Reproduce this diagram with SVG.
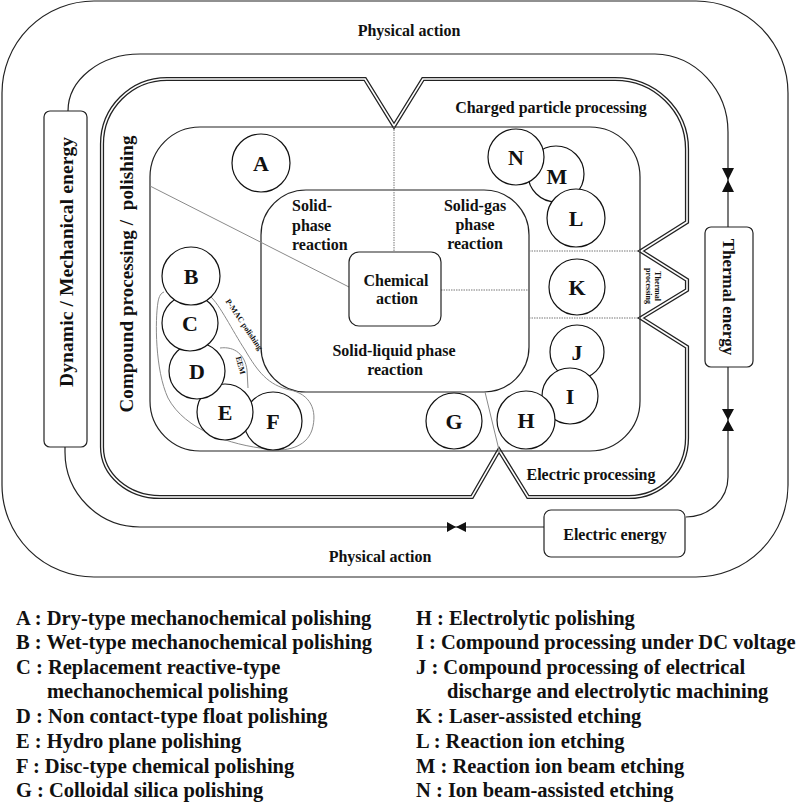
<svg xmlns="http://www.w3.org/2000/svg" width="800" height="806" viewBox="0 0 800 806">
<style>
text{font-family:"Liberation Serif","Times New Roman",serif;font-weight:bold;fill:#111}
.lbl{font-size:16px}
.mid{text-anchor:middle}
.big{font-size:22px;text-anchor:middle}
.leg{font-size:20.5px}
.vert{font-size:19px;text-anchor:middle}
.tiny{font-size:8px;text-anchor:middle}
.ln{fill:none;stroke:#222;stroke-width:1.2}
.box{fill:#fff;stroke:#222;stroke-width:1.2}
.circ{fill:#fff;stroke:#111;stroke-width:1.2}
.dot{fill:none;stroke:#777;stroke-width:1;stroke-dasharray:1.5 1}
.gray{fill:none;stroke:#8a8a8a;stroke-width:1}
.dblo{fill:none;stroke:#222;stroke-width:4.2;stroke-linejoin:miter}
.dbli{fill:none;stroke:#fff;stroke-width:1.6;stroke-linejoin:miter}
.valve{fill:#111}
</style>
<rect x="0" y="0" width="800" height="806" fill="#fff"/>

<g id="outer-frame">
<rect class="ln" x="2" y="1" width="786" height="576" rx="92" ry="92"/>
<text class="lbl mid" x="409" y="36">Physical action</text>
<text class="lbl mid" x="380" y="562">Physical action</text>
</g>

<g id="connectors">
<path class="ln" d="M68 111 A72 57 0 0 1 140 54 L655 54 A75 78 0 0 1 728 132 L728 227"/>
<path class="ln" d="M728 367 L728 477 A42 40 0 0 1 686 517"/>
<path class="ln" d="M544 527 L140 527 A75 75 0 0 1 65 452 L65 447"/>
<polygon class="valve" points="722,168 734,168 728,180 734,192 722,192 728,180"/>
<polygon class="valve" points="722,409 734,409 728,420 734,431 722,431 728,420"/>
<polygon class="valve" points="447,522 447,532 456,527 466,532 466,522 456,527"/>
</g>

<g id="processing-boundary">
<path class="dblo" d="M167 79 L365 79 L394 126 L423 79 L615 79 A72 70 0 0 1 687 149 L687 222 L641 251 L687 280 L687 290 L641 318 L687 347 L687 438 A58 59 0 0 1 629 497 L528 497 L499 450 L472 497 L160 497 A58 50 0 0 1 102 447 L102 144 A65 65 0 0 1 167 79 Z"/>
<path class="dbli" d="M167 79 L365 79 L394 126 L423 79 L615 79 A72 70 0 0 1 687 149 L687 222 L641 251 L687 280 L687 290 L641 318 L687 347 L687 438 A58 59 0 0 1 629 497 L528 497 L499 450 L472 497 L160 497 A58 50 0 0 1 102 447 L102 144 A65 65 0 0 1 167 79 Z"/>
<text class="lbl mid" x="551" y="113">Charged particle processing</text>
<text class="lbl mid" x="591" y="480">Electric processing</text>
<text class="vert" transform="translate(133,274) rotate(-90)" textLength="277" xml:space="preserve">Compound processing /  polishing</text>
<text class="tiny" transform="translate(655,286) rotate(90)"><tspan x="0" y="0">Thermal</tspan><tspan x="0" y="9">processing</tspan></text>
</g>

<g id="reaction-area">
<rect class="ln" x="150" y="127" width="490" height="324" rx="50" ry="50"/>
<rect class="ln" x="261" y="190" width="268" height="202" rx="45" ry="45"/>
<path class="dot" d="M394 127 L394 252"/>
<path class="dot" d="M441 290 L529 290"/>
<path class="dot" d="M529 251 L641 251"/>
<path class="dot" d="M529 318 L641 318"/>
<path class="gray" d="M150 186 L349 287"/>
<path class="gray" d="M485 392 L499 450"/>
<text class="lbl" x="292" y="211">Solid-</text>
<text class="lbl" x="292" y="231">phase</text>
<text class="lbl" x="292" y="250">reaction</text>
<text class="lbl mid" x="475" y="211">Solid-gas</text>
<text class="lbl mid" x="475" y="230">phase</text>
<text class="lbl mid" x="475" y="249">reaction</text>
<text class="lbl mid" x="394" y="356">Solid-liquid phase</text>
<text class="lbl mid" x="395" y="375">reaction</text>
</g>

<g id="polishing-groups">
<path class="gray" d="M210 296 C220 305 232 330 245 350 C258 372 268 385 290 390 C310 394 318 410 312 430 C306 448 285 452 268 449 C230 445 185 430 168 398 C155 370 155 320 158 302 C159 296 161 293 164 292"/>
<path class="gray" d="M220 348 C235 346 245 355 247 370 L248 388"/>
<text class="tiny" transform="translate(242,326) rotate(56)">P-MAC polishing</text>
<text class="tiny" transform="translate(238,366) rotate(75)">EEM</text>
</g>

<g id="chemical-action">
<rect class="box" x="349" y="252" width="92" height="74" rx="10" ry="10"/>
<text class="lbl mid" x="396" y="286">Chemical</text>
<text class="lbl mid" x="397" y="304">action</text>
</g>

<g id="dynamic-mechanical-energy">
<rect class="box" x="44" y="111" width="43" height="336" rx="6" ry="6"/>
<text class="vert" transform="translate(73,262) rotate(-90)" style="font-size:19.5px" textLength="250" xml:space="preserve">Dynamic / Mechanical energy</text>
</g>
<g id="thermal-energy">
<rect class="box" x="705" y="227" width="48" height="140" rx="6" ry="6"/>
<text class="lbl mid" transform="translate(723,297) rotate(90)" style="font-size:17px">Thermal energy</text>
</g>
<g id="electric-energy">
<rect class="box" x="544" y="510" width="141" height="47" rx="7" ry="7"/>
<text class="lbl mid" x="615" y="540">Electric energy</text>
</g>

<g id="node-A"><circle class="circ" cx="261" cy="163" r="29"/><text class="big" x="261" y="171">A</text></g>
<g id="node-F"><circle class="circ" cx="273" cy="421" r="29"/><text class="big" x="273" y="429">F</text></g>
<g id="node-E"><circle class="circ" cx="225" cy="412" r="28"/><text class="big" x="225" y="420">E</text></g>
<g id="node-D"><circle class="circ" cx="197" cy="371" r="28"/><text class="big" x="197" y="379">D</text></g>
<g id="node-C"><circle class="circ" cx="190" cy="323" r="28"/><text class="big" x="190" y="331">C</text></g>
<g id="node-B"><circle class="circ" cx="191" cy="276" r="29"/><text class="big" x="191" y="284">B</text></g>
<g id="node-G"><circle class="circ" cx="454" cy="421" r="28"/><text class="big" x="454" y="429">G</text></g>
<g id="node-J"><circle class="circ" cx="577" cy="352" r="27"/><text class="big" x="577" y="360">J</text></g>
<g id="node-I"><circle class="circ" cx="570" cy="396" r="28"/><text class="big" x="570" y="404">I</text></g>
<g id="node-H"><circle class="circ" cx="526" cy="420" r="29"/><text class="big" x="526" y="428">H</text></g>
<g id="node-K"><circle class="circ" cx="577" cy="287" r="28"/><text class="big" x="577" y="295">K</text></g>
<g id="node-M"><circle class="circ" cx="556" cy="174" r="28"/><text class="big" x="557" y="184">M</text></g>
<g id="node-N"><circle class="circ" cx="516" cy="157" r="28"/><text class="big" x="516" y="165">N</text></g>
<g id="node-L"><circle class="circ" cx="576" cy="218" r="29"/><text class="big" x="576" y="226">L</text></g>

<g id="legend">
<text class="leg" x="16" y="625">A : Dry-type mechanochemical polishing</text>
<text class="leg" x="16" y="649">B : Wet-type mechanochemical polishing</text>
<text class="leg" x="16" y="674">C : Replacement reactive-type</text>
<text class="leg" x="47" y="698">mechanochemical polishing</text>
<text class="leg" x="16" y="723">D : Non contact-type float polishing</text>
<text class="leg" x="16" y="748">E : Hydro plane polishing</text>
<text class="leg" x="16" y="773">F : Disc-type chemical polishing</text>
<text class="leg" x="16" y="797">G : Colloidal silica polishing</text>
<text class="leg" x="416" y="625">H : Electrolytic polishing</text>
<text class="leg" x="416" y="649">I : Compound processing under DC voltage</text>
<text class="leg" x="416" y="674">J : Compound processing of electrical</text>
<text class="leg" x="447" y="698">discharge and electrolytic machining</text>
<text class="leg" x="416" y="723">K : Laser-assisted etching</text>
<text class="leg" x="416" y="748">L : Reaction ion etching</text>
<text class="leg" x="416" y="773">M : Reaction ion beam etching</text>
<text class="leg" x="416" y="797">N : Ion beam-assisted etching</text>
</g>
</svg>
